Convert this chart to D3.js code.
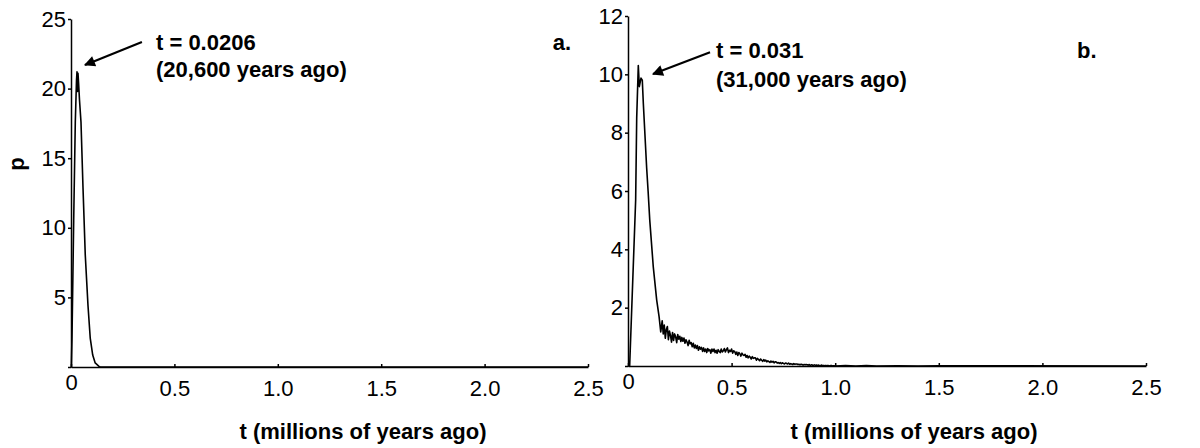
<!DOCTYPE html>
<html>
<head>
<meta charset="utf-8">
<script src="https://cdn.jsdelivr.net/npm/d3@7"></script>
<style>
  html, body { margin: 0; padding: 0; background: #fff; }
  svg { display: block; }
  text { font-family: "Liberation Sans", Arial, Helvetica, sans-serif; fill: #000; }
</style>
</head>
<body>
<svg id="chart" width="1200" height="448"></svg>
<script>
// ---------- DATA ----------
// Panel a
const tA = [0, 0.0015, 0.0048, 0.013, 0.0208, 0.0266, 0.029, 0.0314, 0.0338, 0.0367, 0.041, 0.0483, 0.058, 0.069, 0.082, 0.093, 0.105, 0.117, 0.134, 0.14, 2.5];
const pA = [0, 0, 2.1, 10.5, 17.6, 20.6, 21.2, 19.8, 21.1, 20.4, 19.2, 17.6, 12.9, 8.05, 4.45, 2.08, 0.86, 0.29, 0.07, 0, 0];

// Panel b (peak region)
const tBHead = [0, 0.008, 0.037, 0.042, 0.0497, 0.0546, 0.0627, 0.069, 0.074, 0.090, 0.097, 0.105, 0.122, 0.1385, 0.150, 0.158];
const pBHead = [0, 0, 5.7, 8.5, 10.3, 9.58, 9.87, 9.8, 9.0, 6.8, 6.0, 5.0, 3.4, 2.26, 1.69, 1.17];
// Panel b (noisy tail, sampled every 0.005 from t = 0.165)
const tBTailStart = 0.165, tBTailStep = 0.005;
const pBTail = [
  1.55, 1.10, 1.40, 0.95, 1.25, 1.35, 0.90, 1.20, 1.05, 0.82,
  1.15, 0.88, 1.10, 1.00, 0.80, 1.08, 0.92, 1.02, 0.84, 0.98,
  0.85, 0.96, 0.78, 0.90, 0.82, 0.70, 0.88, 0.76, 0.80, 0.66,
  0.78, 0.62, 0.72, 0.60, 0.70, 0.54, 0.66, 0.58, 0.64, 0.50,
  0.62, 0.50, 0.58, 0.46, 0.60, 0.52, 0.56, 0.44, 0.58, 0.50,
  0.58, 0.46, 0.54, 0.44, 0.56, 0.50, 0.46, 0.58, 0.48, 0.52,
  0.60, 0.48, 0.56, 0.62, 0.46, 0.54, 0.50, 0.58, 0.44, 0.52,
  0.50, 0.40, 0.48, 0.36, 0.46, 0.42, 0.34, 0.44, 0.38, 0.36,
  0.40, 0.30, 0.36, 0.28, 0.34, 0.30, 0.24, 0.32, 0.26, 0.28,
  0.28, 0.20, 0.26, 0.22, 0.18, 0.24, 0.20, 0.16, 0.22, 0.17,
  0.20, 0.14, 0.18, 0.15, 0.12, 0.17, 0.13, 0.16, 0.11, 0.14,
  0.14, 0.10, 0.12, 0.09, 0.12, 0.08, 0.11, 0.09, 0.07, 0.10,
  0.09, 0.07, 0.10, 0.06, 0.08, 0.07, 0.05, 0.08, 0.06, 0.07,
  0.07, 0.05, 0.06, 0.04, 0.06, 0.05, 0.03, 0.05, 0.04, 0.05,
  0.04, 0.03, 0.05, 0.02, 0.04, 0.03, 0.02, 0.04, 0.02, 0.03,
  0.02, 0.03, 0.01, 0.02, 0.03, 0.01, 0.02, 0.01, 0.02, 0.01,
  0.02, 0.00, 0.01, 0.02, 0.00, 0.01, 0.01, 0.00
];
const tBEnd = [1.05, 1.1, 1.15, 1.2, 1.3, 1.4, 1.5, 2.5];
const pBEnd = [0.015, 0, 0.012, 0, 0.01, 0, 0.005, 0];

// Axes / ticks
const xTicks = [0, 0.5, 1.0, 1.5, 2.0, 2.5];
const xTickLabels = ["0", "0.5", "1.0", "1.5", "2.0", "2.5"];
const yTicksA = [0, 5, 10, 15, 20, 25];
const yTicksB = [0, 2, 4, 6, 8, 10, 12];
const xTitle = "t (millions of years ago)";
const yTitle = "p";

// Annotations (data space: [t, p])
const annA = { lines: ["t = 0.0206", "(20,600 years ago)"], textAt: [0.411, 22.77], lineGapP: 1.94,
               arrowFrom: [0.343, 23.35], arrowTo: [0.0677, 21.7], tag: "a.", tagAt: [2.33, 22.77] };
const annB = { lines: ["t = 0.031", "(31,000 years ago)"], textAt: [0.4247, 10.56], lineGapP: 0.995,
               arrowFrom: [0.396, 10.76], arrowTo: [0.1207, 10.01], tag: "b.", tagAt: [2.167, 10.56] };

// ---------- DRAW ----------
const svg = d3.select("#chart");
svg.append("defs").append("marker")
  .attr("id", "arrowhead").attr("viewBox", "0 0 10 10")
  .attr("refX", 9).attr("refY", 5)
  .attr("markerUnits", "userSpaceOnUse")
  .attr("markerWidth", 14).attr("markerHeight", 11)
  .attr("orient", "auto")
  .append("path").attr("d", "M0,0 L10,5 L0,10 Z").attr("fill", "#000");

function panel(opts) {
  const x = d3.scaleLinear().domain([0, 2.5]).range(opts.xRange);
  const y = d3.scaleLinear().domain(opts.yDomain).range(opts.yRange);
  const g = svg.append("g");

  // x axis
  const xa = g.append("g").attr("transform", `translate(0,${opts.yRange[0]})`)
    .call(d3.axisBottom(x).tickValues(xTicks).tickFormat((d, i) => xTickLabels[i])
      .tickSizeInner(-3).tickSizeOuter(0).tickPadding(13));
  xa.selectAll("path, line").attr("stroke", "#000").attr("stroke-width", 1.5);
  xa.selectAll("text").attr("font-size", 22).attr("fill", "#000")
    .attr("transform", d => d === 0 ? "translate(0,-6)" : null);

  // y axis
  const ya = g.append("g").attr("transform", `translate(${opts.xRange[0]},0)`)
    .call(d3.axisLeft(y).tickValues(opts.yTicks).tickFormat(d => d === 0 ? "" : d)
      .tickSizeInner(3).tickSizeOuter(0).tickPadding(2));
  ya.selectAll("path, line").attr("stroke", "#000").attr("stroke-width", 1.5);
  ya.selectAll("text").attr("font-size", 22).attr("fill", "#000");

  // curve
  const line = d3.line().x(d => x(d[0])).y(d => y(d[1]));
  g.append("path").datum(opts.data).attr("d", line)
    .attr("fill", "none").attr("stroke", "#000").attr("stroke-width", 1.6)
    .attr("stroke-linejoin", "round");

  // x title
  g.append("text").attr("x", opts.xTitleX).attr("y", 439)
    .attr("text-anchor", "middle").attr("font-size", 22).attr("font-weight", "bold")
    .text(xTitle);

  // annotation
  const a = opts.ann;
  g.append("line")
    .attr("x1", x(a.arrowFrom[0])).attr("y1", y(a.arrowFrom[1]))
    .attr("x2", x(a.arrowTo[0])).attr("y2", y(a.arrowTo[1]))
    .attr("stroke", "#000").attr("stroke-width", 2.2)
    .attr("marker-end", "url(#arrowhead)");
  a.lines.forEach((s, i) => {
    g.append("text").attr("x", x(a.textAt[0])).attr("y", y(a.textAt[1] - i * a.lineGapP))
      .attr("font-size", 22).attr("font-weight", "bold").text(s);
  });
  g.append("text").attr("x", x(a.tagAt[0])).attr("y", y(a.tagAt[1]))
    .attr("font-size", 22).attr("font-weight", "bold").text(a.tag);
  return { x, y };
}

const dataA = tA.map((t, i) => [t, pA[i]]);
const dataB = tBHead.map((t, i) => [t, pBHead[i]])
  .concat(pBTail.map((p, i) => [tBTailStart + i * tBTailStep, p]))
  .concat(tBEnd.map((t, i) => [t, pBEnd[i]]));

panel({ xRange: [71, 588], yDomain: [0, 25], yRange: [367, 19], yTicks: yTicksA,
        data: dataA, xTitleX: 363, ann: annA });
panel({ xRange: [628, 1146], yDomain: [0, 12], yRange: [366, 16], yTicks: yTicksB,
        data: dataB, xTitleX: 914, ann: annB });

// y title (panel a only)
svg.append("text").attr("transform", "translate(24,164) rotate(-90)")
  .attr("text-anchor", "middle").attr("font-size", 22).attr("font-weight", "bold")
  .text(yTitle);
</script>
</body>
</html>
